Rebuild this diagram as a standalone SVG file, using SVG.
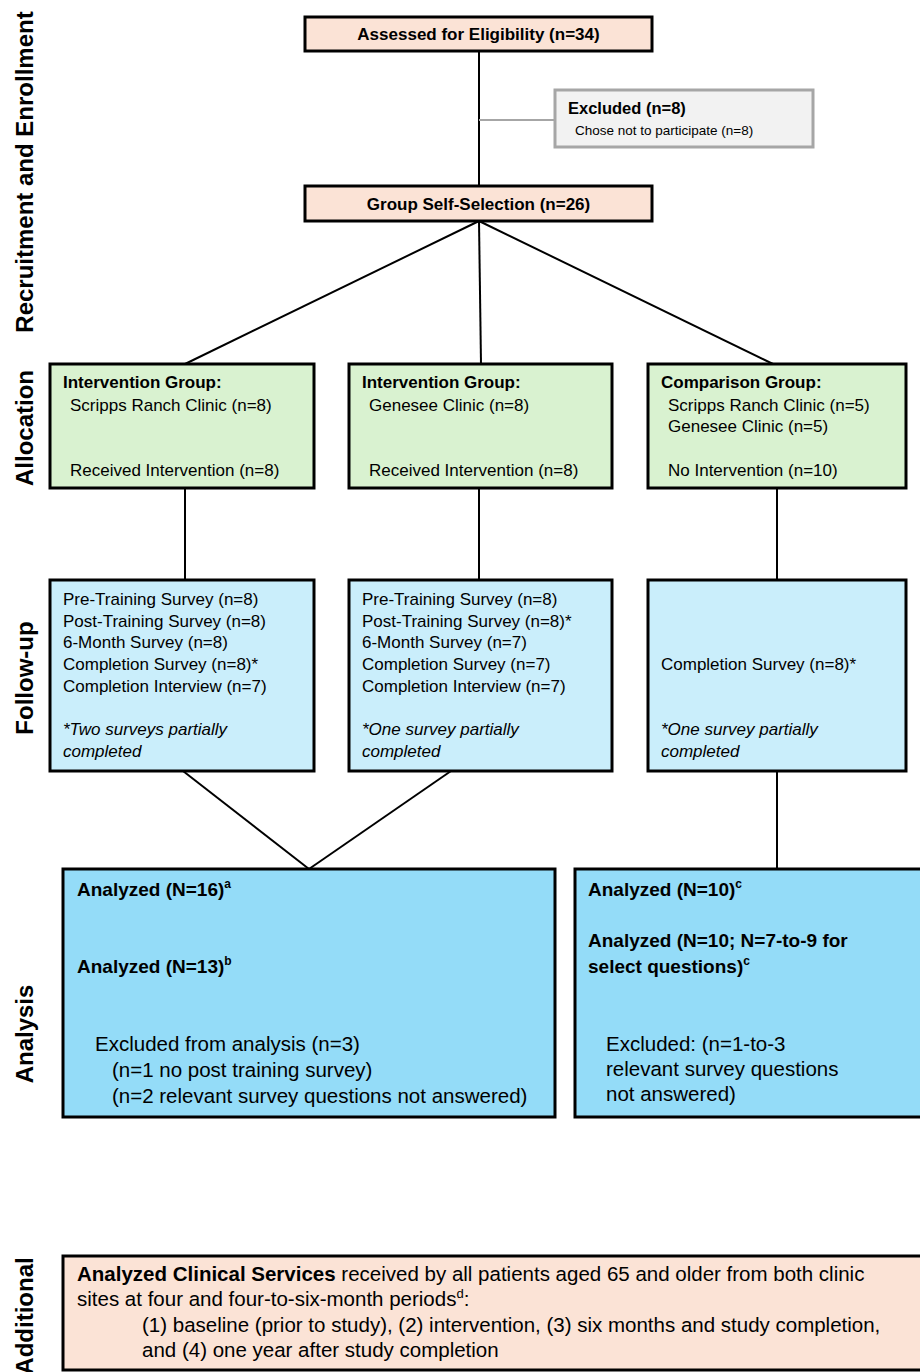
<svg xmlns="http://www.w3.org/2000/svg" width="920" height="1372" viewBox="0 0 920 1372">
<style>
text{font-family:"Liberation Sans",Arial,sans-serif;fill:#000}
.b{font-weight:bold}
.lbl{font-weight:bold;font-size:24px;text-anchor:middle}
.hd{font-weight:bold;font-size:17px}
.t17{font-size:17px}
.i17{font-size:17px;font-style:italic}
.t20{font-size:20.5px}
.an{font-weight:bold;font-size:19px}
.sup{font-size:12px;font-weight:bold}
.box{stroke:#000;stroke-width:3}
.peach{fill:#fbe3d6}
.green{fill:#d9f2d0}
.lblue{fill:#caeefb}
.dblue{fill:#94dcf8}
.conn{stroke:#000;stroke-width:2;fill:none}
</style>

<g id="labels">
<text class="lbl" transform="translate(33,172) rotate(-90)">Recruitment and Enrollment</text>
<text class="lbl" transform="translate(33,428) rotate(-90)">Allocation</text>
<text class="lbl" transform="translate(33,678) rotate(-90)">Follow-up</text>
<text class="lbl" transform="translate(33,1034) rotate(-90)">Analysis</text>
<text class="lbl" transform="translate(33,1316) rotate(-90)">Additional</text>
</g>

<g id="connectors">
<line class="conn" x1="479" y1="51" x2="479" y2="186"/>
<line x1="479" y1="120" x2="555" y2="120" stroke="#a6a6a6" stroke-width="2"/>
<line class="conn" x1="479" y1="221" x2="185" y2="364"/>
<line class="conn" x1="479" y1="221" x2="481" y2="364"/>
<line class="conn" x1="479" y1="221" x2="773" y2="364"/>
<line class="conn" x1="185" y1="488" x2="185" y2="580"/>
<line class="conn" x1="479" y1="488" x2="479" y2="580"/>
<line class="conn" x1="777" y1="488" x2="777" y2="580"/>
<line class="conn" x1="183" y1="771" x2="309" y2="869"/>
<line class="conn" x1="451" y1="771" x2="309" y2="869"/>
<line class="conn" x1="777" y1="771" x2="777" y2="869"/>
</g>

<g id="assessed">
<rect class="box peach" x="305" y="17" width="347" height="34"/>
<text class="hd" x="478.5" y="40" text-anchor="middle">Assessed for Eligibility (n=34)</text>
</g>

<g id="excluded">
<rect x="555" y="90" width="258" height="57" fill="#f2f2f2" stroke="#a6a6a6" stroke-width="3"/>
<text class="b" x="568" y="114" font-size="16.5">Excluded (n=8)</text>
<text x="575" y="135" font-size="13.5">Chose not to participate (n=8)</text>
</g>

<g id="selection">
<rect class="box peach" x="305" y="186" width="347" height="35"/>
<text class="hd" x="478.5" y="210" text-anchor="middle">Group Self-Selection (n=26)</text>
</g>

<g id="alloc1">
<rect class="box green" x="50" y="364" width="264" height="124"/>
<text class="hd" x="63" y="388">Intervention Group:</text>
<text class="t17" x="70" y="411">Scripps Ranch Clinic (n=8)</text>
<text class="t17" x="70" y="476">Received Intervention (n=8)</text>
</g>

<g id="alloc2">
<rect class="box green" x="349" y="364" width="263" height="124"/>
<text class="hd" x="362" y="388">Intervention Group:</text>
<text class="t17" x="369" y="411">Genesee Clinic (n=8)</text>
<text class="t17" x="369" y="476">Received Intervention (n=8)</text>
</g>

<g id="alloc3">
<rect class="box green" x="648" y="364" width="258" height="124"/>
<text class="hd" x="661" y="388">Comparison Group:</text>
<text class="t17" x="668" y="411">Scripps Ranch Clinic (n=5)</text>
<text class="t17" x="668" y="432">Genesee Clinic (n=5)</text>
<text class="t17" x="668" y="476">No Intervention (n=10)</text>
</g>

<g id="follow1">
<rect class="box lblue" x="50" y="580" width="264" height="191"/>
<text class="t17" x="63" y="605">Pre-Training Survey (n=8)</text>
<text class="t17" x="63" y="627">Post-Training Survey (n=8)</text>
<text class="t17" x="63" y="648">6-Month Survey (n=8)</text>
<text class="t17" x="63" y="670">Completion Survey (n=8)*</text>
<text class="t17" x="63" y="692">Completion Interview (n=7)</text>
<text class="i17" x="63" y="735">*Two surveys partially</text>
<text class="i17" x="63" y="757">completed</text>
</g>

<g id="follow2">
<rect class="box lblue" x="349" y="580" width="263" height="191"/>
<text class="t17" x="362" y="605">Pre-Training Survey (n=8)</text>
<text class="t17" x="362" y="627">Post-Training Survey (n=8)*</text>
<text class="t17" x="362" y="648">6-Month Survey (n=7)</text>
<text class="t17" x="362" y="670">Completion Survey (n=7)</text>
<text class="t17" x="362" y="692">Completion Interview (n=7)</text>
<text class="i17" x="362" y="735">*One survey partially</text>
<text class="i17" x="362" y="757">completed</text>
</g>

<g id="follow3">
<rect class="box lblue" x="648" y="580" width="258" height="191"/>
<text class="t17" x="661" y="670">Completion Survey (n=8)*</text>
<text class="i17" x="661" y="735">*One survey partially</text>
<text class="i17" x="661" y="757">completed</text>
</g>

<g id="analysis1">
<rect class="box dblue" x="63" y="869" width="492" height="248"/>
<text class="an" x="77" y="896">Analyzed (N=16)<tspan class="sup" dy="-8">a</tspan></text>
<text class="an" x="77" y="973">Analyzed (N=13)<tspan class="sup" dy="-8">b</tspan></text>
<text class="t20" x="95" y="1051">Excluded from analysis (n=3)</text>
<text class="t20" x="112" y="1077">(n=1 no post training survey)</text>
<text class="t20" x="112" y="1103">(n=2 relevant survey questions not answered)</text>
</g>

<g id="analysis2">
<rect class="box dblue" x="575" y="869" width="360" height="248"/>
<text class="an" x="588" y="896">Analyzed (N=10)<tspan class="sup" dy="-8">c</tspan></text>
<text class="an" x="588" y="947">Analyzed (N=10; N=7-to-9 for</text>
<text class="an" x="588" y="973">select questions)<tspan class="sup" dy="-8">c</tspan></text>
<text class="t20" x="606" y="1051">Excluded: (n=1-to-3</text>
<text class="t20" x="606" y="1076">relevant survey questions</text>
<text class="t20" x="606" y="1101">not answered)</text>
</g>

<g id="additional">
<rect class="box peach" x="63" y="1256" width="870" height="114"/>
<text class="t20" x="77" y="1281"><tspan class="b">Analyzed Clinical Services</tspan> received by all patients aged 65 and older from both clinic</text>
<text class="t20" x="77" y="1306">sites at four and four-to-six-month periods<tspan font-size="13" dy="-8">d</tspan><tspan dy="8">:</tspan></text>
<text class="t20" x="142" y="1332">(1) baseline (prior to study), (2) intervention, (3) six months and study completion,</text>
<text class="t20" x="142" y="1357">and (4) one year after study completion</text>
</g>
</svg>
